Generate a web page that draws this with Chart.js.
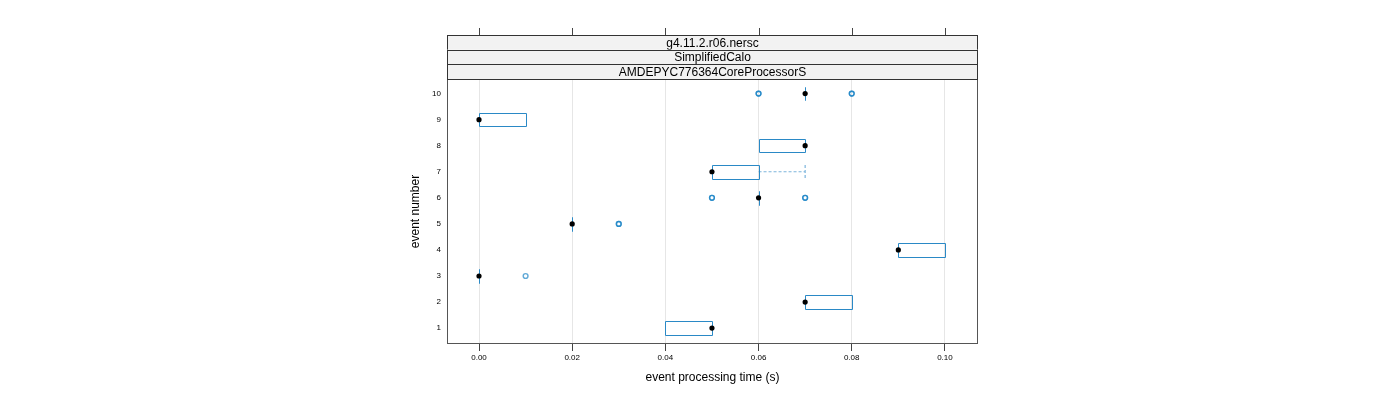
<!DOCTYPE html>
<html lang="en">
<head>
    <meta charset="utf-8" />
    <title>event processing time</title>
    <script src="https://cdn.jsdelivr.net/npm/chart.js@4.4.0/dist/chart.umd.min.js"></script>
    <style>
        body { margin: 0; background: #fff; }
        #wrap { width: 1400px; height: 400px; }
    </style>
</head>
<body>
    <div id="wrap">
        <canvas id="bwChart" width="1400" height="400"></canvas>
    </div>

    <script>
        // data
        var events = [1, 2, 3, 4, 5, 6, 7, 8, 9, 10];
        var q1 = [0.04, 0.07, 0.00, 0.09, 0.02, 0.06, 0.05, 0.06, 0.00, 0.07];
        var medians = [0.05, 0.07, 0.00, 0.09, 0.02, 0.06, 0.05, 0.07, 0.00, 0.07];
        var q3 = [0.05, 0.08, 0.00, 0.10, 0.02, 0.06, 0.06, 0.07, 0.01, 0.07];
        var whiskerLo = [0.04, 0.07, 0.00, 0.09, 0.02, 0.06, 0.05, 0.06, 0.00, 0.07];
        var whiskerHi = [0.05, 0.08, 0.00, 0.10, 0.02, 0.06, 0.07, 0.07, 0.01, 0.07];
        // repeated values overlap (drawn darker)
        var outliers = [[], [], [0.01], [], [0.03, 0.03], [0.05, 0.05, 0.07, 0.07], [], [], [], [0.06, 0.06, 0.08, 0.08]];
        var xTicks = [0.00, 0.02, 0.04, 0.06, 0.08, 0.10];
        var stripLabels = ["g4.11.2.r06.nersc", "SimplifiedCalo", "AMDEPYC776364CoreProcessorS"];

        var boxColor = '#2a89c6';
        var fontName = '"Liberation Sans", Arial, sans-serif';

        var medianPts = events.map(function (e, i) { return { x: medians[i], y: e }; });
        var outlierPts = [];
        events.forEach(function (e, i) {
            outliers[i].forEach(function (v) { outlierPts.push({ x: v, y: e }); });
        });

        // boxes, whiskers, panel frame and strips
        var latticePlugin = {
            id: 'lattice',
            beforeDatasetsDraw: function (chart) {
                var ctx = chart.ctx, xs = chart.scales.x, ys = chart.scales.y;
                ctx.save();
                events.forEach(function (e, i) {
                    var yt = ys.getPixelForValue(e + 0.26);
                    var yb = ys.getPixelForValue(e - 0.26);
                    var ym = ys.getPixelForValue(e);
                    var x1 = xs.getPixelForValue(q1[i]);
                    var x3 = xs.getPixelForValue(q3[i]);
                    // whiskers
                    ctx.strokeStyle = '#7db5dc';
                    ctx.lineWidth = 1.2;
                    ctx.setLineDash([3, 2]);
                    [[whiskerLo[i], q1[i]], [whiskerHi[i], q3[i]]].forEach(function (w) {
                        if (w[0] === w[1]) return;
                        var xw = xs.getPixelForValue(w[0]);
                        var xb = xs.getPixelForValue(w[1]);
                        ctx.beginPath();
                        ctx.moveTo(xb, ym); ctx.lineTo(xw, ym);
                        ctx.moveTo(xw, yt); ctx.lineTo(xw, yb);
                        ctx.stroke();
                    });
                    ctx.setLineDash([]);
                    // box
                    ctx.strokeStyle = boxColor;
                    ctx.lineWidth = 1;
                    ctx.beginPath();
                    ctx.rect(Math.round(x1) + 0.5, Math.round(yt) + 0.5, Math.round(x3) - Math.round(x1), Math.round(yb) - Math.round(yt));
                    ctx.stroke();
                });
                ctx.restore();
            },
            afterDraw: function (chart) {
                var ctx = chart.ctx, a = chart.chartArea, xs = chart.scales.x;
                ctx.save();
                // panel frame
                ctx.strokeStyle = '#555';
                ctx.lineWidth = 1;
                ctx.strokeRect(Math.round(a.left) + 0.5, Math.round(a.top) + 0.5, Math.round(a.right - a.left) - 1, Math.round(a.bottom - a.top) - 1);
                // strips
                var h = 14.67;
                var top = a.top - h * stripLabels.length;
                ctx.font = '12px ' + fontName;
                ctx.textAlign = 'center';
                ctx.textBaseline = 'middle';
                stripLabels.forEach(function (s, k) {
                    var y = top + k * h;
                    ctx.fillStyle = '#f2f2f2';
                    ctx.fillRect(a.left, y, a.right - a.left, h);
                    ctx.strokeStyle = '#333';
                    ctx.strokeRect(Math.round(a.left) + 0.5, Math.round(y) + 0.5, Math.round(a.right - a.left) - 1, Math.round(h));
                    ctx.fillStyle = '#000';
                    ctx.fillText(s, (a.left + a.right) / 2, y + h / 2 + 1);
                });
                // top ticks above the strips
                ctx.strokeStyle = '#444';
                ctx.beginPath();
                xTicks.forEach(function (v) {
                    var x = Math.round(xs.getPixelForValue(v)) + 0.5;
                    ctx.moveTo(x, top - 7);
                    ctx.lineTo(x, top);
                });
                ctx.stroke();
                ctx.restore();
            }
        };

        new Chart(document.getElementById('bwChart'), {
            type: 'scatter',
            data: {
                datasets: [{
                    label: 'median',
                    data: medianPts,
                    pointStyle: 'circle',
                    pointRadius: 2.6,
                    backgroundColor: '#000',
                    borderColor: '#000',
                    borderWidth: 0
                }, {
                    label: 'outliers',
                    data: outlierPts,
                    pointStyle: 'circle',
                    pointRadius: 2.4,
                    backgroundColor: 'rgba(255,255,255,0)',
                    borderColor: 'rgba(10,123,194,0.65)',
                    borderWidth: 1.4
                }]
            },
            options: {
                responsive: false,
                animation: false,
                layout: {
                    padding: { left: 400, right: 422, top: 79, bottom: 0 }
                },
                plugins: {
                    legend: { display: false },
                    tooltip: { enabled: false }
                },
                scales: {
                    x: {
                        type: 'linear',
                        min: -0.00687,
                        max: 0.1071,
                        afterBuildTicks: function (scale) {
                            scale.ticks = xTicks.map(function (v) { return { value: v }; });
                        },
                        afterFit: function (scale) { scale.height = 56; },
                        grid: {
                            color: '#e6e6e6',
                            tickColor: '#444',
                            tickLength: 7
                        },
                        border: { display: false },
                        ticks: {
                            padding: 2,
                            maxRotation: 0,
                            color: '#000',
                            font: { family: fontName, size: 8 },
                            callback: function (v) { return Number(v).toFixed(2); }
                        },
                        title: {
                            display: true,
                            text: 'event processing time (s)',
                            color: '#000',
                            font: { family: fontName, size: 12 },
                            padding: { top: 0, bottom: 15 }
                        }
                    },
                    y: {
                        type: 'linear',
                        min: 0.39,
                        max: 10.56,
                        afterBuildTicks: function (scale) {
                            scale.ticks = events.map(function (v) { return { value: v }; });
                        },
                        afterFit: function (scale) { scale.width = 47; },
                        grid: { display: false, drawTicks: false },
                        border: { display: false },
                        ticks: {
                            padding: 6,
                            color: '#000',
                            font: { family: fontName, size: 8 }
                        },
                        title: {
                            display: true,
                            text: 'event number',
                            color: '#000',
                            font: { family: fontName, size: 12 },
                            padding: { top: 8, bottom: 0 }
                        }
                    }
                }
            },
            plugins: [latticePlugin]
        });
    </script>
</body>
</html>
